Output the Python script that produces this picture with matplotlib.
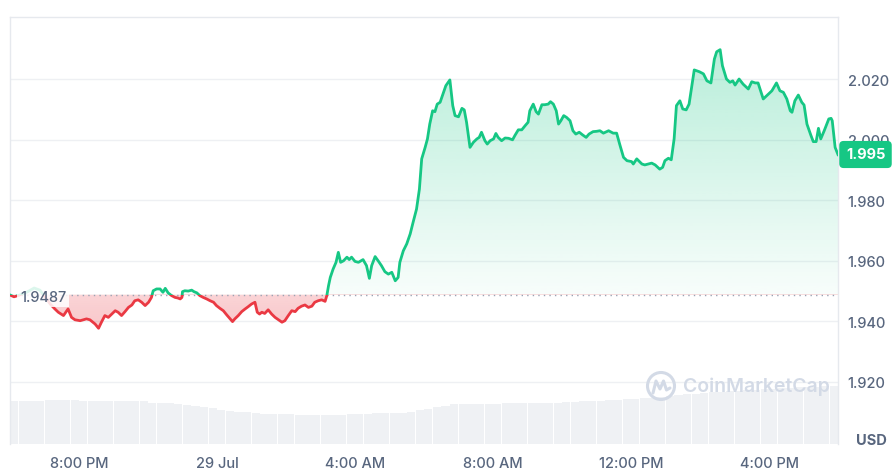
import numpy as np
import matplotlib
matplotlib.use('Agg')
import matplotlib.pyplot as plt
from matplotlib.patches import Rectangle, Circle
from matplotlib.path import Path
from matplotlib.lines import Line2D
from matplotlib.colors import to_rgb

plt.rcParams['font.family'] = ['Inter', 'DejaVu Sans']

# ---- data (minutes since 18:00, 28 Jul) ----
minutes = [0, 7, 17, 30, 42, 52, 61, 70, 78, 84, 93, 101, 107, 113, 122, 133, 139, 148, 154, 159,
           165, 171, 177, 183, 188, 194, 200, 206, 212, 217, 223, 229, 235, 241, 246, 249, 255, 261, 266, 270,
           275, 281, 287, 292, 296, 299, 300, 304, 310, 316, 320, 325, 330, 336, 342, 348, 354, 359, 365, 371,
           377, 383, 387, 391, 397, 403, 409, 414, 420, 426, 430, 434, 438, 443, 449, 455, 461, 467, 473, 478,
           484, 490, 496, 501, 507, 513, 519, 525, 530, 536, 542, 548, 551, 554, 557, 562, 567, 571, 575, 580,
           586, 590, 594, 600, 606, 614, 620, 625, 629, 635, 641, 646, 652, 658, 664, 670, 675, 678, 684, 690,
           696, 701, 707, 712, 716, 722, 726, 730, 735, 739, 743, 748, 753, 758, 765, 770, 774, 780, 786, 790,
           794, 800, 806, 812, 816, 820, 826, 830, 835, 841, 845, 849, 855, 861, 867, 874, 878, 884, 890, 896,
           901, 904, 910, 915, 919, 925, 930, 936, 940, 945, 950, 954, 958, 963, 968, 974, 979, 984, 990, 996,
           1002, 1007, 1014, 1020, 1026, 1032, 1041, 1049, 1055, 1061, 1067, 1073, 1081, 1084, 1090, 1099, 1104, 1116, 1122, 1130,
           1135, 1139, 1145, 1150, 1155, 1159, 1165, 1170, 1176, 1181, 1190, 1199, 1206, 1212, 1219, 1225, 1229, 1235, 1239, 1246,
           1252, 1257, 1261, 1268, 1275, 1284, 1290, 1296, 1301, 1310, 1316, 1325, 1333, 1339, 1345, 1351, 1357, 1360, 1365, 1371,
           1377, 1381, 1386, 1393, 1397, 1402, 1406, 1410, 1416, 1424, 1428, 1430, 1435, 1440]
prices = [1.9486, 1.9480, 1.9486, 1.9496, 1.9509, 1.9502, 1.9479, 1.9456, 1.9440, 1.9429, 1.9418, 1.9440, 1.9412, 1.9404, 1.9401, 1.9407, 1.9404, 1.9390, 1.9376, 1.9396,
          1.9418, 1.9412, 1.9423, 1.9434, 1.9429, 1.9418, 1.9431, 1.9445, 1.9453, 1.9467, 1.9470, 1.9462, 1.9451, 1.9462, 1.9478, 1.9500, 1.9506, 1.9506, 1.9495, 1.9508,
          1.9493, 1.9484, 1.9478, 1.9476, 1.9473, 1.9478, 1.9497, 1.9500, 1.9499, 1.9502, 1.9497, 1.9493, 1.9484, 1.9478, 1.9473, 1.9467, 1.9462, 1.9451, 1.9442, 1.9434,
          1.9420, 1.9407, 1.9398, 1.9407, 1.9418, 1.9431, 1.9440, 1.9447, 1.9456, 1.9462, 1.9429, 1.9423, 1.9429, 1.9425, 1.9437, 1.9423, 1.9412, 1.9404, 1.9396, 1.9401,
          1.9418, 1.9434, 1.9431, 1.9442, 1.9449, 1.9453, 1.9445, 1.9449, 1.9462, 1.9467, 1.9470, 1.9465, 1.9484, 1.9517, 1.9544, 1.9572, 1.9594, 1.9627, 1.9594, 1.9599,
          1.9611, 1.9603, 1.9611, 1.9597, 1.9594, 1.9603, 1.9583, 1.9541, 1.9583, 1.9613, 1.9597, 1.9583, 1.9563, 1.9555, 1.9561, 1.9533, 1.9544, 1.9594, 1.9632, 1.9655,
          1.9688, 1.9726, 1.9770, 1.9836, 1.9936, 1.9974, 2.0002, 2.0051, 2.0095, 2.0092, 2.0117, 2.0123, 2.0150, 2.0178, 2.0197, 2.0112, 2.0079, 2.0075, 2.0103, 2.0098,
          2.0057, 1.9974, 1.9991, 2.0002, 2.0007, 2.0024, 1.9996, 1.9985, 1.9996, 2.0002, 2.0020, 2.0007, 1.9996, 2.0005, 2.0004, 1.9999, 2.0013, 2.0032, 2.0032, 2.0046,
          2.0057, 2.0095, 2.0117, 2.0092, 2.0084, 2.0115, 2.0115, 2.0117, 2.0125, 2.0117, 2.0095, 2.0051, 2.0062, 2.0079, 2.0073, 2.0062, 2.0029, 2.0018, 2.0024, 2.0015,
          2.0007, 2.0018, 2.0026, 2.0027, 2.0029, 2.0021, 2.0029, 2.0021, 2.0021, 1.9980, 1.9941, 1.9930, 1.9927, 1.9919, 1.9936, 1.9919, 1.9916, 1.9922, 1.9916, 1.9902,
          1.9908, 1.9930, 1.9938, 1.9933, 2.0002, 2.0112, 2.0128, 2.0101, 2.0098, 2.0117, 2.0230, 2.0224, 2.0217, 2.0194, 2.0187, 2.0266, 2.0290, 2.0297, 2.0244, 2.0200,
          2.0189, 2.0194, 2.0180, 2.0200, 2.0183, 2.0167, 2.0191, 2.0187, 2.0187, 2.0134, 2.0145, 2.0161, 2.0187, 2.0161, 2.0156, 2.0134, 2.0095, 2.0090, 2.0128, 2.0147,
          2.0123, 2.0114, 2.0051, 2.0013, 1.9993, 1.9993, 2.0037, 2.0002, 2.0029, 2.0068, 2.0070, 2.0062, 1.9974, 1.9950]
baseline = 1.9487
last_price = 1.995
# relative 24h volume, one bar per 15 minutes
volume = [43.1, 43.1, 43.1, 43.5, 44.4, 44.4, 44.4, 44.2, 43.3, 43.1,
          43.1, 43.1, 43.1, 43.1, 43.0, 42.8, 41.5, 41.1, 40.6, 39.8,
          39.2, 38.0, 36.8, 35.6, 34.2, 33.0, 32.2, 31.6, 31.0, 30.4,
          30.0, 29.8, 29.6, 29.5, 29.5, 29.5, 29.5, 29.5, 29.5, 29.6,
          29.8, 30.4, 30.8, 30.8, 30.8, 31.2, 32.5, 34.0, 35.2, 36.8,
          38.2, 39.8, 40.5, 40.5, 40.5, 40.5, 40.5, 40.6, 40.6, 40.8,
          41.0, 41.3, 41.5, 41.5, 41.6, 42.0, 42.6, 43.1, 43.3, 43.6,
          44.0, 44.6, 45.3, 45.6, 46.2, 47.2, 48.2, 49.0, 49.6, 50.5,
          51.4, 52.0, 52.5, 53.0, 53.4, 53.9, 54.4, 55.0, 55.5, 55.9,
          56.2, 56.6, 57.0, 57.5, 58.0, 58.3]
y_ticks = [1.920, 1.940, 1.960, 1.980, 2.000, 2.020]
x_tick_pos = [120, 360, 600, 840, 1080, 1320]
x_tick_labels = ['8:00 PM', '29 Jul', '4:00 AM', '8:00 AM', '12:00 PM', '4:00 PM']

GREEN = '#16c784'
RED = '#ea3943'
TXT = '#58667e'

W, H = 896, 477
fig = plt.figure(figsize=(W / 100, H / 100), dpi=100)
L, R, T, B = 10, 838, 18, 445
rect = [L / W, 1 - B / H, (R - L) / W, (B - T) / H]

# volume axes (behind)
axv = fig.add_axes(rect)
axv.axis('off')
n = len(volume)
step = 1440 / n
vx = np.arange(n) * step + step / 2
axv.bar(vx, volume, width=step * 0.96, color='#eff1f4', linewidth=0)
axv.set_xlim(0, 1440)
axv.set_ylim(0, max(volume) / 0.1365)

# price axes
ax = fig.add_axes(rect)
ax.patch.set_alpha(0)
t = np.array(minutes, dtype=float)
p = np.array(prices)

ymin, ymax = 1.89934, 2.0405

poly = ax.fill_between(t, p, baseline, color='none', lw=0)
clip = Path.make_compound_path(*poly.get_paths())

g = np.zeros((256, 1, 4))
g[..., :3] = to_rgb(GREEN)
g[:, 0, 3] = np.linspace(0.03, 0.32, 256)
im = ax.imshow(g, extent=[0, 1440, baseline, 2.035], origin='lower', aspect='auto',
               interpolation='bilinear', zorder=1)
im.set_clip_path(clip, transform=ax.transData)

r = np.zeros((64, 1, 4))
r[..., :3] = to_rgb(RED)
r[:, 0, 3] = np.linspace(0.30, 0.22, 64)
im2 = ax.imshow(r, extent=[0, 1440, 1.934, baseline], origin='lower', aspect='auto',
                interpolation='bilinear', zorder=1)
im2.set_clip_path(clip, transform=ax.transData)

lg, = ax.plot(t, p, color=GREEN, lw=2.0, zorder=3, solid_joinstyle='round')
lg.set_clip_path(Rectangle((0, baseline), 1440, 1, transform=ax.transData))
lr, = ax.plot(t, p, color=RED, lw=2.0, zorder=3, solid_joinstyle='round')
lr.set_clip_path(Rectangle((0, baseline - 1), 1440, 1, transform=ax.transData))

ax.axhline(baseline, color='#9aa2b3', lw=1.0, ls=(0, (1, 3)), zorder=2)

ax.set_xlim(0, 1440)
ax.set_ylim(ymin, ymax)
ax.yaxis.tick_right()
ax.set_yticks(y_ticks)
ax.set_yticklabels([f'{v:.3f}' for v in y_ticks])
ax.set_xticks(x_tick_pos)
ax.set_xticklabels(x_tick_labels)
ax.tick_params(axis='y', length=0, pad=7, labelsize=10.5, labelcolor=TXT)
ax.tick_params(axis='x', length=0, pad=9, labelsize=10.5, labelcolor=TXT)
for lab in ax.get_xticklabels() + ax.get_yticklabels():
    lab.set_fontweight('medium')
ax.grid(axis='y', color='#eef0f3', lw=1, zorder=0)
ax.set_axisbelow(True)
for s in ['top', 'left', 'right']:
    ax.spines[s].set_color('#e6e9ee')
    ax.spines[s].set_linewidth(1)
ax.spines['bottom'].set_visible(False)

# baseline label
fig.text(20 / W, 1 - 297.5 / H, f'{baseline:.4f}', ha='left', va='center', fontsize=10.5,
         fontweight='medium', color=TXT,
         bbox=dict(boxstyle='square,pad=0.22', fc='white', ec='none', alpha=0.85))

# current price badge
fig.text(865.5 / W, 1 - 155.5 / H, f'{last_price:.3f}', ha='center', va='center', fontsize=10.5,
         fontweight='bold', color='white',
         bbox=dict(boxstyle='round,pad=0.45,rounding_size=0.3', fc=GREEN, ec='none'))

fig.text(871 / W, 1 - 441 / H, 'USD', ha='center', va='center', fontsize=10.5,
         fontweight='bold', color=TXT)

# watermark
WM = '#d3dae6'
cx, cy = 6.61, (H - 387) / 100
fig.add_artist(Circle((cx, cy), 0.135, transform=fig.dpi_scale_trans, fill=False, ec=WM, lw=2.2))
fig.add_artist(Line2D([cx - 0.08, cx - 0.05, cx - 0.01, cx + 0.025, cx + 0.055, cx + 0.09],
                      [cy - 0.07, cy + 0.05, cy - 0.03, cy + 0.05, cy - 0.04, cy - 0.02],
                      transform=fig.dpi_scale_trans, color=WM, lw=2.2, solid_joinstyle='round',
                      solid_capstyle='round'))
fig.text(683 / W, 1 - 387 / H, 'CoinMarketCap', ha='left', va='center', fontsize=14,
         fontweight='semibold', color=WM)

fig.savefig('out.png', dpi=100, facecolor='white')
